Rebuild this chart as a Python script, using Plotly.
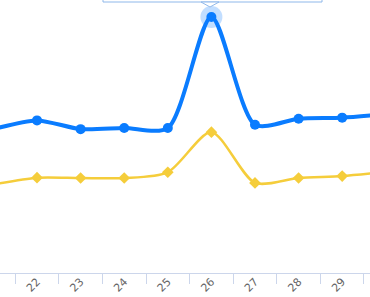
import plotly.graph_objects as go

categories = ["21", "22", "23", "24", "25", "26", "27", "28", "29", "30"]
blue_values = [52.7, 55.9, 52.7, 53.1, 53.1, 93.8, 54.3, 56.5, 56.9, 58.2]
yellow_values = [32.4, 34.9, 34.8, 34.8, 36.9, 51.6, 33.0, 34.8, 35.5, 37.0]
hover_index = 5

BLUE = "#0a7cff"
YELLOW = "#f5cd3b"

fig = go.Figure()
fig.add_trace(go.Scatter(
    x=categories, y=yellow_values, mode="lines+markers",
    line=dict(color=YELLOW, width=2.5, shape="spline", smoothing=0.75),
    marker=dict(symbol="diamond", size=9, color=YELLOW),
    showlegend=False, hoverinfo="skip"))
fig.add_trace(go.Scatter(
    x=[categories[hover_index]], y=[blue_values[hover_index]], mode="markers",
    marker=dict(size=22, color="rgba(10,124,255,0.25)"),
    showlegend=False, hoverinfo="skip"))
fig.add_trace(go.Scatter(
    x=categories, y=blue_values, mode="lines+markers",
    line=dict(color=BLUE, width=4, shape="spline", smoothing=0.75),
    marker=dict(symbol="circle", size=10, color=BLUE),
    showlegend=False, hoverinfo="skip"))

H = 273.0
def py(p):
    return (H - p) / H

# tooltip box (mostly above the visible area) and its caret
fig.add_shape(type="rect", xref="paper", yref="paper",
              x0=103/370, x1=322/370, y0=py(2), y1=py(-60),
              fillcolor="white", line=dict(color="#8fb8ea", width=1), layer="above")
fig.add_shape(type="path", xref="paper", yref="paper",
              path=f"M {201/370},{py(2)} L {210/370},{py(7)} L {219/370},{py(2)} Z",
              fillcolor="white", line=dict(color="#8fb8ea", width=1), layer="above")

fig.update_layout(
    width=370, height=297,
    margin=dict(l=0, r=0, t=0, b=24),
    paper_bgcolor="white", plot_bgcolor="white",
    xaxis=dict(
        type="category", range=[0.151, 8.638], automargin=False,
        showline=True, linecolor="#ccd6eb", linewidth=1,
        ticks="outside", ticklen=10, tickcolor="#ccd6eb", tickwidth=1,
        tickson="boundaries", showgrid=False, zeroline=False,
        ticklabelstandoff=-3,
        tickangle=-45, tickfont=dict(family="DejaVu Sans", size=11, color="#666666"),
    ),
    yaxis=dict(range=[0, 100], visible=False, showgrid=False, zeroline=False, automargin=False),
)

fig.write_html("out.html")
